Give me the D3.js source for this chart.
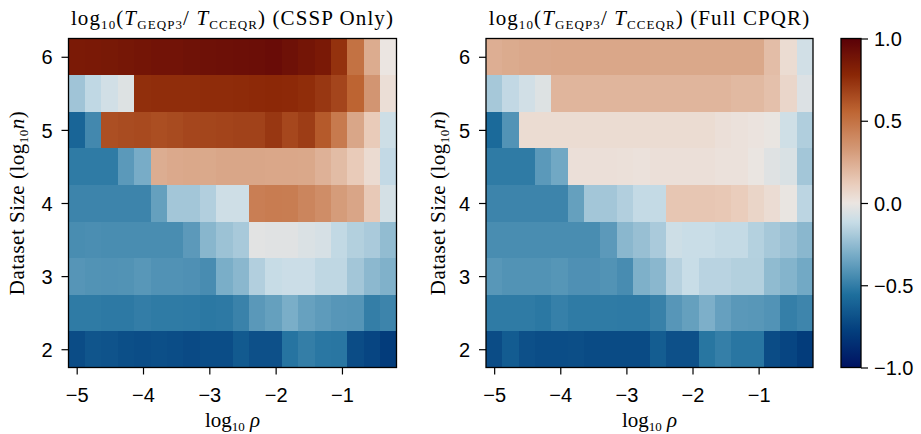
<!DOCTYPE html>
<html><head><meta charset="utf-8">
<script src="https://cdn.jsdelivr.net/npm/d3@7"></script>
<style>body{margin:0;background:#fff} svg{display:block}</style>
</head><body>
<svg id="chart" width="921" height="434"></svg>
<script>
// ---------- data ----------
const logRho = [-5.000, -4.753, -4.505, -4.258, -4.011, -3.763, -3.516, -3.268, -3.021, -2.774,
                -2.526, -2.279, -2.032, -1.784, -1.537, -1.290, -1.042, -0.795, -0.548, -0.301];
const logN = [2, 2.5, 3, 3.5, 4, 4.5, 5, 5.5, 6];
const xTicks = [-5, -4, -3, -2, -1];
const yTicks = [2, 3, 4, 5, 6];
const cbTicks = [1.0, 0.5, 0.0, -0.5, -1.0];
const panelTitles = ["(CSSP Only)", "(Full CPQR)"];

// rows ordered by logN (2 -> 6), columns by logRho
const csspOnly = [
  [-0.715,-0.674,-0.683,-0.701,-0.710,-0.701,-0.710,-0.724,-0.710,-0.710,-0.651,-0.697,-0.697,-0.535,-0.497,-0.524,-0.527,-0.715,-0.746,-0.790],
  [-0.510,-0.510,-0.516,-0.516,-0.500,-0.510,-0.510,-0.512,-0.520,-0.515,-0.480,-0.396,-0.366,-0.310,-0.360,-0.385,-0.403,-0.408,-0.497,-0.473],
  [-0.406,-0.417,-0.420,-0.417,-0.401,-0.420,-0.420,-0.425,-0.444,-0.310,-0.270,-0.170,-0.116,-0.105,-0.105,-0.136,-0.136,-0.207,-0.265,-0.295],
  [-0.440,-0.435,-0.440,-0.440,-0.440,-0.440,-0.440,-0.390,-0.275,-0.225,-0.194,-0.030,-0.036,-0.036,-0.055,-0.069,-0.129,-0.166,-0.190,-0.250],
  [-0.473,-0.473,-0.473,-0.473,-0.473,-0.366,-0.207,-0.207,-0.170,-0.095,-0.095, 0.444, 0.453, 0.449, 0.413, 0.377, 0.315, 0.276, 0.130,-0.075],
  [-0.510,-0.510,-0.510,-0.393,-0.315, 0.244, 0.260, 0.265, 0.262, 0.273, 0.273, 0.273, 0.270, 0.270, 0.265, 0.228, 0.184, 0.123, 0.048,-0.126],
  [-0.600,-0.457, 0.635, 0.645, 0.652, 0.638, 0.650, 0.665, 0.668, 0.675, 0.680, 0.680, 0.720, 0.662, 0.700, 0.595, 0.462, 0.273, 0.123,-0.098],
  [-0.215,-0.133,-0.085,-0.046, 0.750, 0.755, 0.755, 0.755, 0.760, 0.760, 0.765, 0.770, 0.775, 0.770, 0.756, 0.720, 0.670, 0.560, 0.340, 0.035],
  [ 0.850, 0.855, 0.860, 0.870, 0.880, 0.890, 0.890, 0.900, 0.905, 0.910, 0.915, 0.920, 0.930, 0.905, 0.880, 0.855, 0.740, 0.500, 0.250, 0.000]
];
const fullCPQR = [
  [-0.715,-0.642,-0.697,-0.710,-0.710,-0.705,-0.720,-0.720,-0.720,-0.720,-0.638,-0.697,-0.697,-0.530,-0.495,-0.527,-0.527,-0.715,-0.746,-0.790],
  [-0.510,-0.510,-0.510,-0.520,-0.490,-0.510,-0.510,-0.510,-0.512,-0.512,-0.485,-0.403,-0.366,-0.302,-0.364,-0.396,-0.400,-0.415,-0.495,-0.470],
  [-0.400,-0.417,-0.417,-0.417,-0.405,-0.425,-0.425,-0.417,-0.444,-0.300,-0.270,-0.160,-0.113,-0.152,-0.152,-0.166,-0.166,-0.255,-0.285,-0.330],
  [-0.440,-0.440,-0.440,-0.440,-0.440,-0.440,-0.440,-0.390,-0.270,-0.235,-0.190,-0.098,-0.111,-0.111,-0.125,-0.125,-0.163,-0.200,-0.227,-0.270],
  [-0.473,-0.473,-0.473,-0.473,-0.473,-0.366,-0.207,-0.207,-0.170,-0.125,-0.125, 0.143, 0.143, 0.143, 0.135, 0.115, 0.077, 0.043,-0.005,-0.144],
  [-0.510,-0.510,-0.510,-0.393,-0.333, 0.028, 0.028, 0.028, 0.025, 0.020, 0.028, 0.028, 0.028, 0.028, 0.018, 0.018,-0.003,-0.040,-0.060,-0.207],
  [-0.578,-0.415, 0.045, 0.045, 0.045, 0.045, 0.045, 0.045, 0.045, 0.045, 0.045, 0.045, 0.045, 0.045, 0.029, 0.020, 0.010,-0.005,-0.090,-0.174],
  [-0.200,-0.130,-0.085,-0.045, 0.212, 0.212, 0.212, 0.212, 0.212, 0.212, 0.212, 0.212, 0.212, 0.212, 0.212, 0.196, 0.196, 0.167, 0.072,-0.050],
  [ 0.240, 0.253, 0.264, 0.264, 0.270, 0.270, 0.270, 0.270, 0.270, 0.270, 0.265, 0.265, 0.265, 0.265, 0.265, 0.265, 0.265, 0.178, 0.045,-0.085]
];

// vik-like diverging colormap stops (t in [0,1])
const cmapPos = [0, 1/9, 2/9, 3/9, 4/9, 0.5, 5/9, 6/9, 7/9, 8/9, 1];
const cmapCol = ["#001261","#033e7d","#1e6f9d","#71a8c4","#c9dde7","#ebe5e1","#eacebd","#d39774","#be6533","#8b2706","#590007"];

// ---------- drawing ----------
const svg = d3.select("#chart");
const color = d3.scaleLinear()
  .domain(cmapPos.map(t => -1 + 2 * t))
  .range(cmapCol)
  .interpolate(d3.interpolateRgb)
  .clamp(true);

const plotTop = 38.5, plotBottom = 367.5;
const panels = [
  {left: 68.5, right: 396.5, data: csspOnly, title: panelTitles[0], ylabX: 23.5},
  {left: 486, right: 813, data: fullCPQR, title: panelTitles[1], ylabX: 445}
];

// cell edges from centres
function edges(c) {
  const e = [];
  for (let i = 0; i <= c.length; i++) {
    if (i === 0) e.push(c[0] - (c[1] - c[0]) / 2);
    else if (i === c.length) e.push(c[i-1] + (c[i-1] - c[i-2]) / 2);
    else e.push((c[i-1] + c[i]) / 2);
  }
  return e;
}
const xe = edges(logRho), ye = edges(logN);

const tickFont = "'Liberation Sans', Arial, Helvetica, sans-serif";
const serif = "'Liberation Serif', 'Times New Roman', serif";

panels.forEach(p => {
  const x = d3.scaleLinear().domain([xe[0], xe[xe.length-1]]).range([p.left, p.right]);
  const y = d3.scaleLinear().domain([ye[0], ye[ye.length-1]]).range([plotBottom, plotTop]);
  const g = svg.append("g");

  const cells = [];
  p.data.forEach((row, j) => row.forEach((v, i) => cells.push({i, j, v})));
  g.append("g").selectAll("rect").data(cells).join("rect")
    .attr("x", d => x(xe[d.i]))
    .attr("width", d => x(xe[d.i+1]) - x(xe[d.i]) + 0.3)
    .attr("y", d => y(ye[d.j+1]))
    .attr("height", d => y(ye[d.j]) - y(ye[d.j+1]) + 0.3)
    .attr("fill", d => color(d.v))
    .attr("shape-rendering", "crispEdges");

  // frame
  g.append("rect").attr("x", p.left).attr("y", plotTop)
    .attr("width", p.right - p.left).attr("height", plotBottom - plotTop)
    .attr("fill", "none").attr("stroke", "#000").attr("stroke-width", 1.3);

  const xa = g.append("g").attr("transform", `translate(0,${plotBottom})`)
    .call(d3.axisBottom(x).tickValues(xTicks).tickSize(7).tickPadding(13).tickFormat(d3.format("d")));
  const ya = g.append("g").attr("transform", `translate(${p.left},0)`)
    .call(d3.axisLeft(y).tickValues(yTicks).tickSize(7).tickPadding(9).tickFormat(d3.format("d")));
  [xa, ya].forEach(a => {
    a.select(".domain").remove();
    a.selectAll(".tick line").attr("stroke", "#000").attr("stroke-width", 1.2);
    a.selectAll(".tick text").attr("fill", "#000").style("font-family", tickFont).style("font-size", "20px");
  });
  xa.selectAll(".tick text").attr("dy", "0.71em");
  ya.selectAll(".tick text").attr("dy", "0.36em");

  // title
  const cx = (p.left + p.right) / 2;
  const t = g.append("text").attr("x", cx).attr("y", 25).attr("text-anchor", "middle")
    .style("font-family", serif).style("font-size", "21px").style("letter-spacing", "1.1px");
  t.append("tspan").text("log");
  t.append("tspan").attr("dy", 4).style("font-size", "13px").text("10");
  t.append("tspan").attr("dy", -4).text("(");
  t.append("tspan").style("font-style", "italic").text("T");
  t.append("tspan").attr("dy", 4).style("font-size", "13px").text("GEQP3");
  t.append("tspan").attr("dy", -4).text("/ ");
  t.append("tspan").style("font-style", "italic").text("T");
  t.append("tspan").attr("dy", 4).style("font-size", "13px").text("CCEQR");
  t.append("tspan").attr("dy", -4).text(") " + p.title);

  // x label
  const xl = g.append("text").attr("x", cx).attr("y", 427).attr("text-anchor", "middle")
    .style("font-family", serif).style("font-size", "21px");
  xl.append("tspan").text("log");
  xl.append("tspan").attr("dy", 4).style("font-size", "13px").text("10");
  xl.append("tspan").attr("dy", -4).style("font-style", "italic").text(" ρ");

  // y label
  const yl = g.append("text")
    .attr("transform", `translate(${p.ylabX},${(plotTop + plotBottom) / 2}) rotate(-90)`)
    .attr("text-anchor", "middle")
    .style("font-family", serif).style("font-size", "21px").style("letter-spacing", "0.5px");
  yl.append("tspan").text("Dataset Size (log");
  yl.append("tspan").attr("dy", 4).style("font-size", "13px").text("10");
  yl.append("tspan").attr("dy", -4).style("font-style", "italic").text("n");
  yl.append("tspan").text(")");
});

// ---------- colorbar ----------
const cbL = 841, cbR = 861;
const cy = d3.scaleLinear().domain([-1, 1]).range([plotBottom, plotTop]);
const defs = svg.append("defs");
const grad = defs.append("linearGradient").attr("id", "cbgrad")
  .attr("x1", 0).attr("y1", 1).attr("x2", 0).attr("y2", 0);
d3.range(0, 101).forEach(k => {
  const v = -1 + 2 * k / 100;
  grad.append("stop").attr("offset", `${k}%`).attr("stop-color", color(v));
});
svg.append("rect").attr("x", cbL).attr("y", plotTop).attr("width", cbR - cbL).attr("height", plotBottom - plotTop)
  .attr("fill", "url(#cbgrad)").attr("stroke", "#000").attr("stroke-width", 1.3);
const ca = svg.append("g").attr("transform", `translate(${cbR},0)`)
  .call(d3.axisRight(cy).tickValues(cbTicks).tickSize(7).tickPadding(6).tickFormat(d3.format(".1f")));
ca.select(".domain").remove();
ca.selectAll(".tick line").attr("stroke", "#000").attr("stroke-width", 1.2);
ca.selectAll(".tick text").attr("fill", "#000").attr("dy", "0.36em")
  .style("font-family", tickFont).style("font-size", "20px");
</script>
</body></html>
